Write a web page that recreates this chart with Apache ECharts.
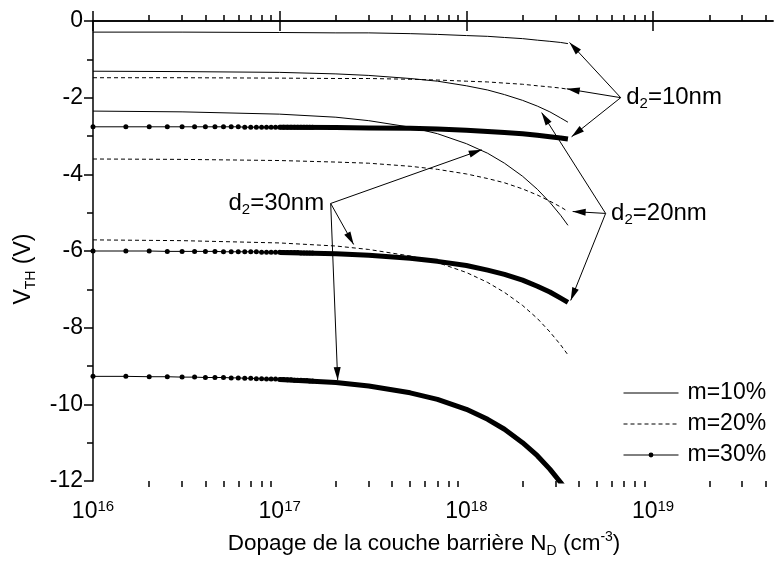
<!DOCTYPE html>
<html>
<head>
<meta charset="utf-8">
<title>V_TH vs N_D</title>
<script src="https://cdn.jsdelivr.net/npm/echarts@6/dist/echarts.min.js"></script>
<style>
  html, body { margin: 0; padding: 0; background: #fff; }
  #chart { width: 774px; height: 563px; }
</style>
</head>
<body>
<div id="chart"></div>
<script>
// Barrier doping (cm^-3) at which the threshold voltage curves are sampled
const ND = [1e16, 3e16, 1e17, 2e17, 3e17, 5e17, 7e17, 1e18, 1.3e18, 1.6e18, 2e18, 2.4e18, 2.8e18, 3.2e18, 3.5e18];

// Threshold voltage V_TH (V), d2 = 10 nm
const VTH_D10_M10 = [-0.29, -0.29, -0.30, -0.31, -0.31, -0.33, -0.35, -0.38, -0.40, -0.43, -0.46, -0.50, -0.53, -0.56, -0.59];
const VTH_D10_M20 = [-1.48, -1.48, -1.49, -1.50, -1.50, -1.52, -1.54, -1.57, -1.59, -1.62, -1.65, -1.69, -1.72, -1.75, -1.78];
const VTH_D10_M30 = [-2.76, -2.76, -2.77, -2.78, -2.79, -2.80, -2.82, -2.85, -2.88, -2.91, -2.94, -2.98, -3.02, -3.05, -3.08];
// d2 = 20 nm
const VTH_D20_M10 = [-1.31, -1.32, -1.34, -1.38, -1.42, -1.50, -1.57, -1.69, -1.80, -1.92, -2.07, -2.22, -2.37, -2.53, -2.64];
const VTH_D20_M20 = [-3.60, -3.61, -3.64, -3.68, -3.71, -3.79, -3.87, -3.99, -4.11, -4.22, -4.38, -4.54, -4.70, -4.85, -4.97];
const VTH_D20_M30 = [-6.00, -6.01, -6.04, -6.07, -6.11, -6.19, -6.27, -6.38, -6.50, -6.61, -6.76, -6.92, -7.07, -7.23, -7.34];
// d2 = 30 nm
const VTH_D30_M10 = [-2.35, -2.37, -2.43, -2.51, -2.60, -2.77, -2.94, -3.20, -3.45, -3.71, -4.05, -4.39, -4.73, -5.07, -5.33];
const VTH_D30_M20 = [-5.71, -5.73, -5.79, -5.87, -5.96, -6.13, -6.30, -6.56, -6.82, -7.08, -7.42, -7.76, -8.11, -8.45, -8.71];
const VTH_D30_M30 = [-9.27, -9.29, -9.35, -9.43, -9.52, -9.70, -9.87, -10.13, -10.39, -10.65, -11.00, -11.34, -11.69, -12.04, -12.30];

// m = 30 %: individual computed points, drawn as dots (every 5e15 cm^-3)
const ND_DOTS = [1.0e16, 1.5e16, 2.0e16, 2.5e16, 3.0e16, 3.5e16, 4.0e16, 4.5e16, 5.0e16, 5.5e16,
                 6.0e16, 6.5e16, 7.0e16, 7.5e16, 8.0e16, 8.5e16, 9.0e16, 9.5e16, 1.0e17, 1.05e17,
                 1.1e17, 1.15e17, 1.2e17, 1.25e17, 1.3e17, 1.35e17, 1.4e17, 1.45e17, 1.5e17];
const DOTS_D10 = [-2.76, -2.76, -2.76, -2.76, -2.76, -2.76, -2.76, -2.76, -2.76, -2.76,
                  -2.76, -2.77, -2.77, -2.77, -2.77, -2.77, -2.77, -2.77, -2.77, -2.77,
                  -2.77, -2.77, -2.77, -2.77, -2.77, -2.77, -2.77, -2.77, -2.77];
const DOTS_D20 = [-6.00, -6.00, -6.00, -6.01, -6.01, -6.01, -6.01, -6.01, -6.02, -6.02,
                  -6.02, -6.02, -6.02, -6.02, -6.03, -6.03, -6.03, -6.03, -6.03, -6.04,
                  -6.04, -6.04, -6.04, -6.04, -6.05, -6.05, -6.05, -6.05, -6.05];
const DOTS_D30 = [-9.27, -9.27, -9.28, -9.28, -9.29, -9.29, -9.30, -9.30, -9.30, -9.31,
                  -9.31, -9.32, -9.32, -9.33, -9.33, -9.34, -9.34, -9.34, -9.35, -9.35,
                  -9.36, -9.36, -9.37, -9.37, -9.37, -9.38, -9.38, -9.39, -9.39];

// Axis range and ticks
const X_MIN = 1e16;
const X_MAX = 4.39e19;
const X_MAJOR = [1e16, 1e17, 1e18, 1e19];
const X_MINOR = [];
X_MAJOR.forEach(d => { for (let k = 2; k <= 9; k++) if (k * d <= X_MAX) X_MINOR.push(k * d); });

const FONT = "'Liberation Sans', Arial, Helvetica, sans-serif";
const BLACK = '#000';

// Annotation arrows: from the label anchor to each curve [ND, V]
const ARROWS = [
  { from: [6.71e18, -2.00], to: [[3.57e18, -0.56], [3.45e18, -1.77], [3.66e18, -3.02]] },
  { from: [5.57e18, -5.02], to: [[2.53e18, -2.39], [3.71e18, -4.97], [3.62e18, -7.29]] },
  { from: [1.876e17, -4.76], to: [[1.208e18, -3.36], [2.49e17, -5.83], [2.045e17, -9.37]] }
];
const LABELS = [
  { at: ARROWS[0].from, text: '10nm', side: 'right' },
  { at: ARROWS[1].from, text: '20nm', side: 'right' },
  { at: ARROWS[2].from, text: '30nm', side: 'left' }
];

const pairs = (xs, ys) => xs.map((x, i) => [x, ys[i]]);

function thinLine(name, ys, dashed) {
  return {
    type: 'line', name, xAxisIndex: 0, yAxisIndex: 0,
    data: pairs(ND, ys), symbol: 'none',
    lineStyle: { color: BLACK, width: 1, type: dashed ? [4, 3] : 'solid' },
    itemStyle: { color: BLACK }, z: 3
  };
}
function dotLine(ys) {
  return {
    type: 'line', name: 'm=30%', xAxisIndex: 0, yAxisIndex: 0,
    data: pairs(ND_DOTS, ys), symbol: 'circle', symbolSize: 5, showSymbol: true, showAllSymbol: true,
    lineStyle: { color: BLACK, width: 1 }, itemStyle: { color: BLACK }, z: 4
  };
}
function thickLine(ys) {
  return {
    type: 'line', name: 'm=30%', xAxisIndex: 0, yAxisIndex: 0,
    data: pairs(ND.slice(2), ys.slice(2)), symbol: 'none',
    lineStyle: { color: BLACK, width: 5, join: 'round' }, itemStyle: { color: BLACK }, z: 4
  };
}

const arrowData = [];
ARROWS.forEach(a => a.to.forEach(t => arrowData.push([{ coord: a.from }, { coord: t }])));

const labelRich = {
  t: { fontFamily: FONT, fontSize: 24, color: BLACK, lineHeight: 28 },
  s: { fontFamily: FONT, fontSize: 15, color: BLACK, lineHeight: 14, verticalAlign: 'bottom' }
};

const series = [
  dotLine(DOTS_D10), dotLine(DOTS_D20), dotLine(DOTS_D30),
  thinLine('m=10%', VTH_D10_M10, false), thinLine('m=10%', VTH_D20_M10, false), thinLine('m=10%', VTH_D30_M10, false),
  thinLine('m=20%', VTH_D10_M20, true), thinLine('m=20%', VTH_D20_M20, true), thinLine('m=20%', VTH_D30_M20, true),
  thickLine(VTH_D10_M30), thickLine(VTH_D20_M30), thickLine(VTH_D30_M30),
  {
    type: 'line', name: 'annotations', xAxisIndex: 0, yAxisIndex: 0, data: [], z: 5,
    markLine: {
      silent: true, animation: false,
      symbol: ['none', 'triangle'],
      symbolSize: [7, 13],
      symbolOffset: [[0, 0], [0, 6.5]],
      lineStyle: { color: BLACK, width: 1, type: 'solid' },
      itemStyle: { color: BLACK },
      label: { show: false },
      emphasis: { disabled: true },
      data: arrowData
    },
    markPoint: {
      silent: true, animation: false, symbol: 'circle', symbolSize: 1,
      itemStyle: { color: 'rgba(0,0,0,0)' },
      data: LABELS.map(l => ({
        coord: l.at, value: 0,
        label: {
          show: true, position: l.side, distance: l.side === 'right' ? 5 : 6,
          formatter: '{t|d}{s|2}{t|=' + l.text + '}', rich: labelRich
        }
      }))
    }
  }
];

const xLabelRich = {
  b: { fontFamily: FONT, fontSize: 23, color: BLACK, lineHeight: 26 },
  s: { fontFamily: FONT, fontSize: 15, color: BLACK, lineHeight: 14, verticalAlign: 'top' }
};

const baseX = { type: 'log', logBase: 10, min: X_MIN, max: X_MAX, gridIndex: 0, splitLine: { show: false }, minorSplitLine: { show: false } };
const legendLine = { color: BLACK, width: 1 };

const option = {
  animation: false,
  backgroundColor: '#fff',
  grid: { left: 93, top: 21, width: 680, height: 461, containLabel: false },
  legend: {
    data: [
      { name: 'm=10%', itemStyle: { opacity: 0 }, lineStyle: legendLine },
      { name: 'm=20%', itemStyle: { opacity: 0 }, lineStyle: Object.assign({ type: [4, 3] }, legendLine) },
      { name: 'm=30%', lineStyle: legendLine }
    ],
    orient: 'vertical', left: 618, top: 376,
    itemWidth: 55, itemHeight: 6, itemGap: 7,
    textStyle: { fontFamily: FONT, fontSize: 23, color: BLACK, lineHeight: 24, padding: [0, 0, 0, 4] },
    selectedMode: false
  },
  xAxis: [
    Object.assign({}, baseX, {
      position: 'bottom',
      axisLine: { show: true, lineStyle: { color: BLACK, width: 1.5 } },
      axisTick: { show: true, customValues: X_MAJOR, length: 10, inside: false, lineStyle: { color: BLACK, width: 1.5 } },
      axisLabel: {
        show: true, customValues: X_MAJOR, margin: 18, color: BLACK,
        formatter: v => '{b|10}{s|' + Math.round(Math.log10(v)) + '}', rich: xLabelRich
      },
      name: '{a|Dopage de la couche barrière N}{sub|D}{a| (cm}{sup|-3}{a|)}',
      nameLocation: 'middle', nameGap: 49,
      nameTextStyle: {
        padding: [0, 18, 0, 0],
        rich: {
          a: { fontFamily: FONT, fontSize: 22.5, color: BLACK, lineHeight: 28 },
          sub: { fontFamily: FONT, fontSize: 14, color: BLACK, lineHeight: 14, verticalAlign: 'bottom' },
          sup: { fontFamily: FONT, fontSize: 14, color: BLACK, lineHeight: 14, verticalAlign: 'top' }
        }
      }
    }),
    Object.assign({}, baseX, {
      position: 'bottom',
      axisLine: { show: false },
      axisTick: { show: true, customValues: X_MINOR, length: 6, inside: false, lineStyle: { color: BLACK, width: 1.5 } },
      axisLabel: { show: false }
    }),
    Object.assign({}, baseX, {
      position: 'top',
      axisLine: { show: true, lineStyle: { color: BLACK, width: 1.5 } },
      axisTick: { show: true, customValues: X_MAJOR, length: 10, inside: false, lineStyle: { color: BLACK, width: 1.5 } },
      axisLabel: { show: false }
    }),
    Object.assign({}, baseX, {
      position: 'top',
      axisLine: { show: false },
      axisTick: { show: true, customValues: X_MINOR, length: 6, inside: false, lineStyle: { color: BLACK, width: 1.5 } },
      axisLabel: { show: false }
    })
  ],
  yAxis: {
    type: 'value', min: -12, max: 0, interval: 2, position: 'left',
    axisLine: { show: true, onZero: false, lineStyle: { color: BLACK, width: 1.5 } },
    axisTick: { show: true, length: 9, inside: false, lineStyle: { color: BLACK, width: 1.5 } },
    minorTick: { show: true, splitNumber: 2, length: 6, lineStyle: { color: BLACK, width: 1.5 } },
    axisLabel: { color: BLACK, fontFamily: FONT, fontSize: 23, margin: 10 },
    splitLine: { show: false }, minorSplitLine: { show: false },
    name: '{v|V}{s|TH}{v| (V)}',
    nameLocation: 'middle', nameGap: 55, nameRotate: 90,
    nameTextStyle: {
      padding: [0, 36, 0, 0],
      rich: {
        v: { fontFamily: FONT, fontSize: 23, color: BLACK, lineHeight: 28 },
        s: { fontFamily: FONT, fontSize: 14, color: BLACK, lineHeight: 14, verticalAlign: 'bottom' }
      }
    }
  },
  series
};

const chart = echarts.init(document.getElementById('chart'), null, { renderer: 'canvas' });
chart.setOption(option);
</script>
</body>
</html>
